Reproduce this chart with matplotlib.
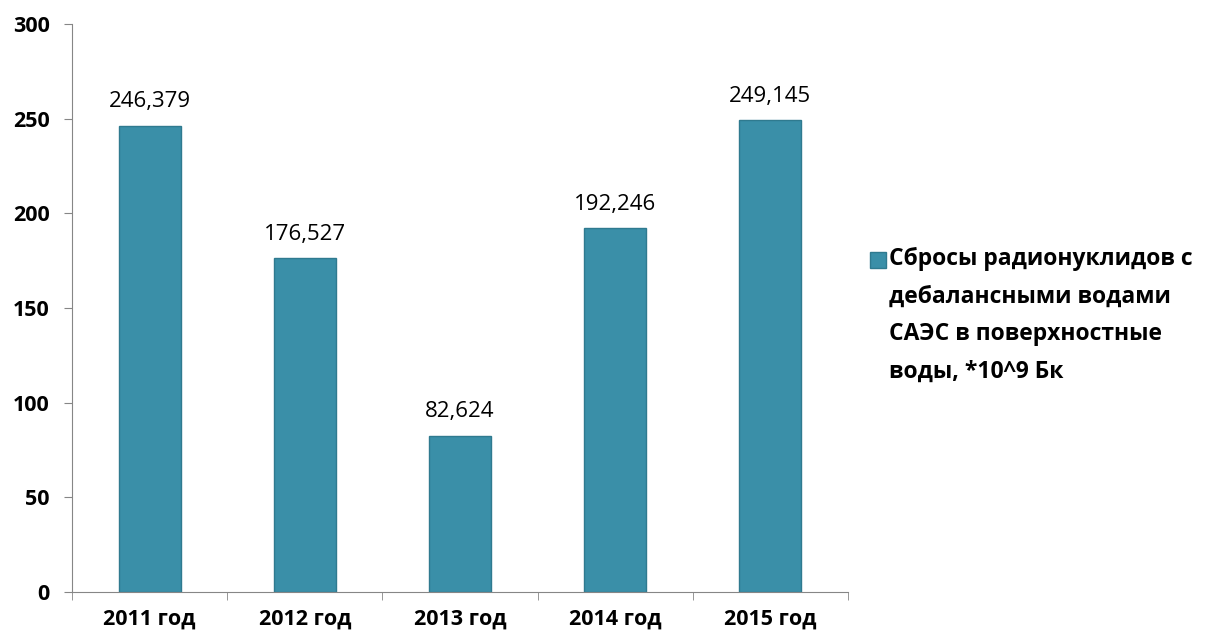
import matplotlib.pyplot as plt
import numpy as np
from matplotlib.patches import Rectangle

plt.rcParams['font.family'] = ['Open Sans', 'DejaVu Sans']

years = ['2011 год', '2012 год', '2013 год', '2014 год', '2015 год']
values = [246.379, 176.527, 82.624, 192.246, 249.145]
value_labels = ['246,379', '176,527', '82,624', '192,246', '249,145']
series_name = 'Сбросы радионуклидов с\nдебалансными водами\nСАЭС в поверхностные\nводы, *10^9 Бк'

bar_color = '#3A8FA8'
edge_color = '#2F7A8F'
axis_color = '#868686'

W, H = 1206, 637
fig = plt.figure(figsize=(W / 100, H / 100), dpi=100)
ax = fig.add_axes([72 / W, 1 - 592 / H, 776 / W, 568 / H])

x = np.arange(len(years))
bars = ax.bar(x, values, width=0.4, color=bar_color, edgecolor=edge_color,
              linewidth=1.0, label=series_name)

for xi, v, lab in zip(x, values, value_labels):
    ax.text(xi, v + 7, lab, ha='center', va='bottom', fontsize=16)

ax.set_xlim(-0.5, len(years) - 0.5)
ax.set_ylim(0, 300)
ax.set_yticks(range(0, 301, 50))
ax.set_xticks(x)
ax.set_xticklabels(years, fontsize=15.5, fontweight='bold')
ax.set_xticks(np.arange(-0.5, len(years)), minor=True)
ax.tick_params(axis='x', which='major', length=0, pad=12)
ax.tick_params(axis='x', which='minor', length=6, color=axis_color, direction='out')
ax.tick_params(axis='y', length=6, color=axis_color, direction='out', pad=10,
               labelsize=15.5)
for lab in ax.get_yticklabels():
    lab.set_fontweight('bold')

ax.spines['top'].set_visible(False)
ax.spines['right'].set_visible(False)
ax.spines['left'].set_color(axis_color)
ax.spines['bottom'].set_color(axis_color)
ax.set_axisbelow(True)

# legend: square key next to the first line of a wrapped label
fig.patches.append(Rectangle((870 / W, 1 - 268 / H), 16 / W, 16 / H,
                             transform=fig.transFigure, facecolor=bar_color,
                             edgecolor=edge_color, linewidth=1.0))
fig.text(889 / W, 1 - 247 / H, series_name, ha='left', va='top',
         fontsize=16.5, fontweight='bold', linespacing=1.76)

fig.savefig('out.png', dpi=100)
